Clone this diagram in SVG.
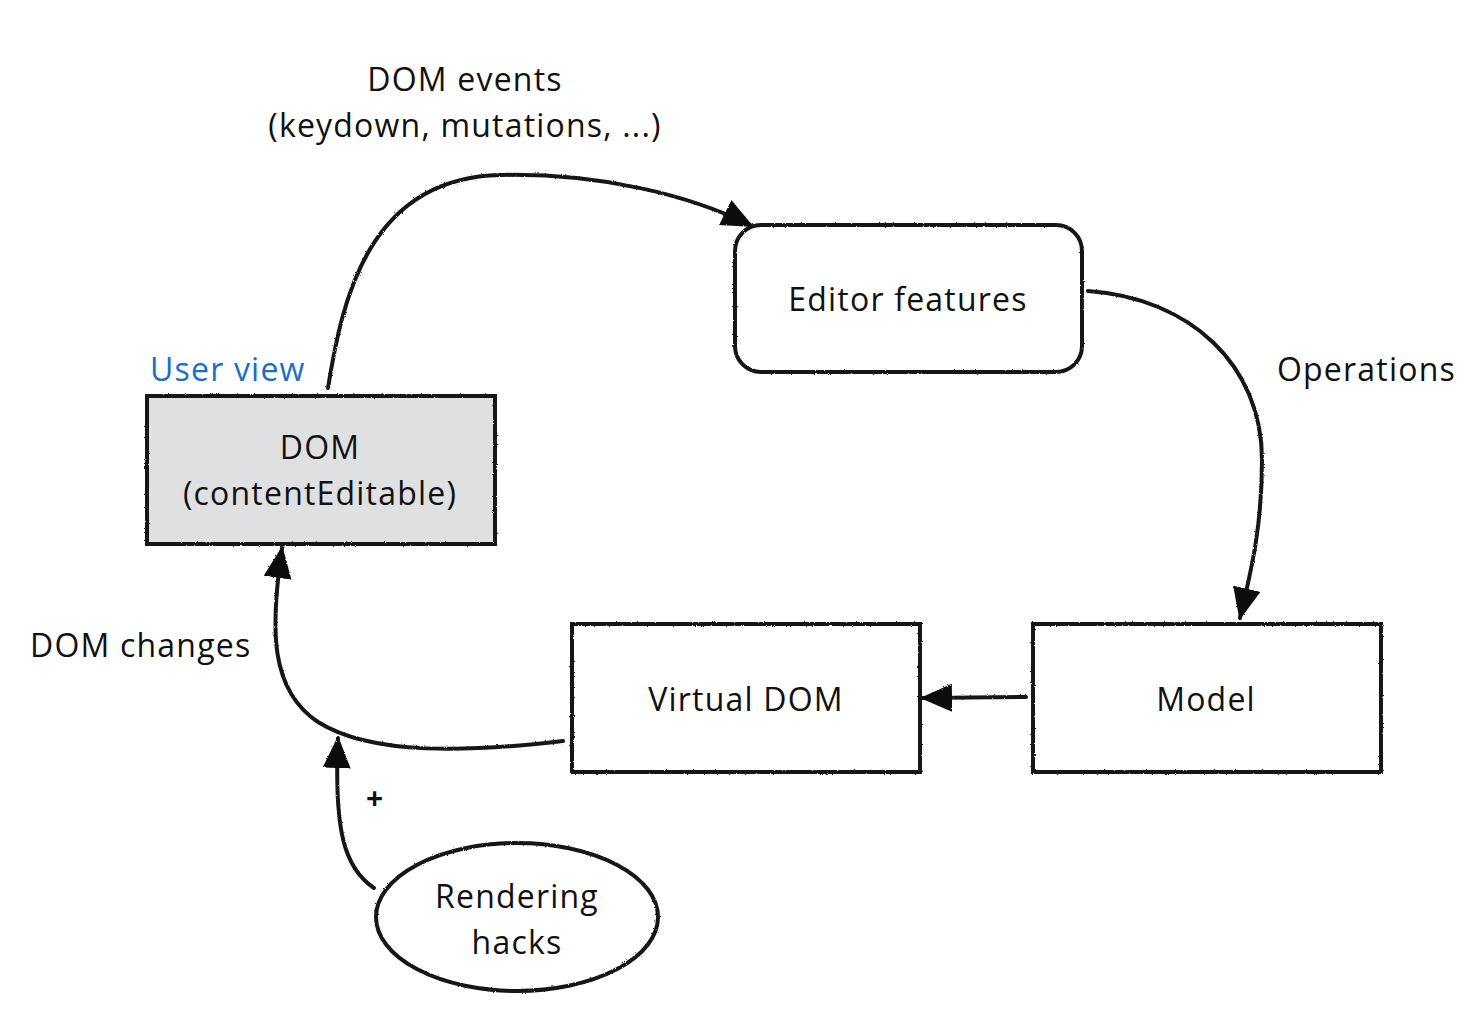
<svg xmlns="http://www.w3.org/2000/svg" width="1484" height="1034" viewBox="0 0 1484 1034">
  <style>
    .lbl { font-family: "Open Sans", "Noto Sans", sans-serif; font-size: 32px; letter-spacing: 1.2px; fill: #111; }
    .mid { text-anchor: middle; }
    .box { fill: #fff; stroke: #151515; stroke-width: 4; }
    .edge { fill: none; stroke: #161616; stroke-width: 4; stroke-linecap: round; }
  </style>
  <defs>
    <filter id="rough" x="-5%" y="-5%" width="110%" height="110%">
      <feTurbulence type="fractalNoise" baseFrequency="0.9" numOctaves="2" seed="3" result="n"/>
      <feDisplacementMap in="SourceGraphic" in2="n" scale="2.2"/>
    </filter>
    <marker id="head" viewBox="0 0 32 28" refX="30" refY="14" markerWidth="32" markerHeight="28" markerUnits="userSpaceOnUse" orient="auto">
      <path d="M0,0 L32,14 L0,28 Z" fill="#111"/>
    </marker>
  </defs>

  <!-- connectors -->
  <g id="connectors" filter="url(#rough)">
    <path class="edge" d="M328,388 C342,300 368,178 500,175 C600,173 690,195 752,226" marker-end="url(#head)"/>
    <path class="edge" d="M1088,291 C1190,298 1262,365 1262,460 C1262,530 1250,575 1240,618" marker-end="url(#head)"/>
    <path class="edge" d="M1026,697 L922,698" marker-end="url(#head)"/>
    <path class="edge" d="M563,741 C470,752 372,756 318,722 C270,690 270,630 282,548" marker-end="url(#head)"/>
    <path class="edge" d="M374,888 C344,868 334,830 338,738" marker-end="url(#head)"/>
  </g>

  <!-- DOM (contentEditable) -->
  <g id="node-dom">
    <rect class="box" x="147" y="396" width="348" height="148" style="fill:#dfe0e2" filter="url(#rough)"/>
    <text class="lbl mid" x="320" y="459">DOM</text>
    <text class="lbl mid" x="320" y="505">(contentEditable)</text>
  </g>

  <!-- Editor features -->
  <g id="node-editor">
    <rect class="box" x="735" y="225" width="347" height="147" rx="26" ry="26" filter="url(#rough)"/>
    <text class="lbl mid" x="908" y="311">Editor features</text>
  </g>

  <!-- Virtual DOM -->
  <g id="node-vdom">
    <rect class="box" x="572" y="624" width="348" height="148" filter="url(#rough)"/>
    <text class="lbl mid" x="746" y="711">Virtual DOM</text>
  </g>

  <!-- Model -->
  <g id="node-model">
    <rect class="box" x="1033" y="624" width="348" height="148" filter="url(#rough)"/>
    <text class="lbl mid" x="1206" y="711">Model</text>
  </g>

  <!-- Rendering hacks -->
  <g id="node-hacks">
    <ellipse class="box" cx="517" cy="917" rx="141" ry="74" filter="url(#rough)"/>
    <text class="lbl mid" x="517" y="908">Rendering</text>
    <text class="lbl mid" x="517" y="954">hacks</text>
  </g>

  <!-- free labels -->
  <g id="labels">
    <text class="lbl" x="150" y="381" style="fill:#1a6fc4">User view</text>
    <text class="lbl mid" x="465" y="91">DOM events</text>
    <text class="lbl mid" x="465" y="137">(keydown, mutations, ...)</text>
    <text class="lbl" x="1277" y="381">Operations</text>
    <text class="lbl" x="30" y="657">DOM changes</text>
    <text class="lbl" x="366" y="809" style="font-size:30px;font-weight:bold">+</text>
  </g>
</svg>
